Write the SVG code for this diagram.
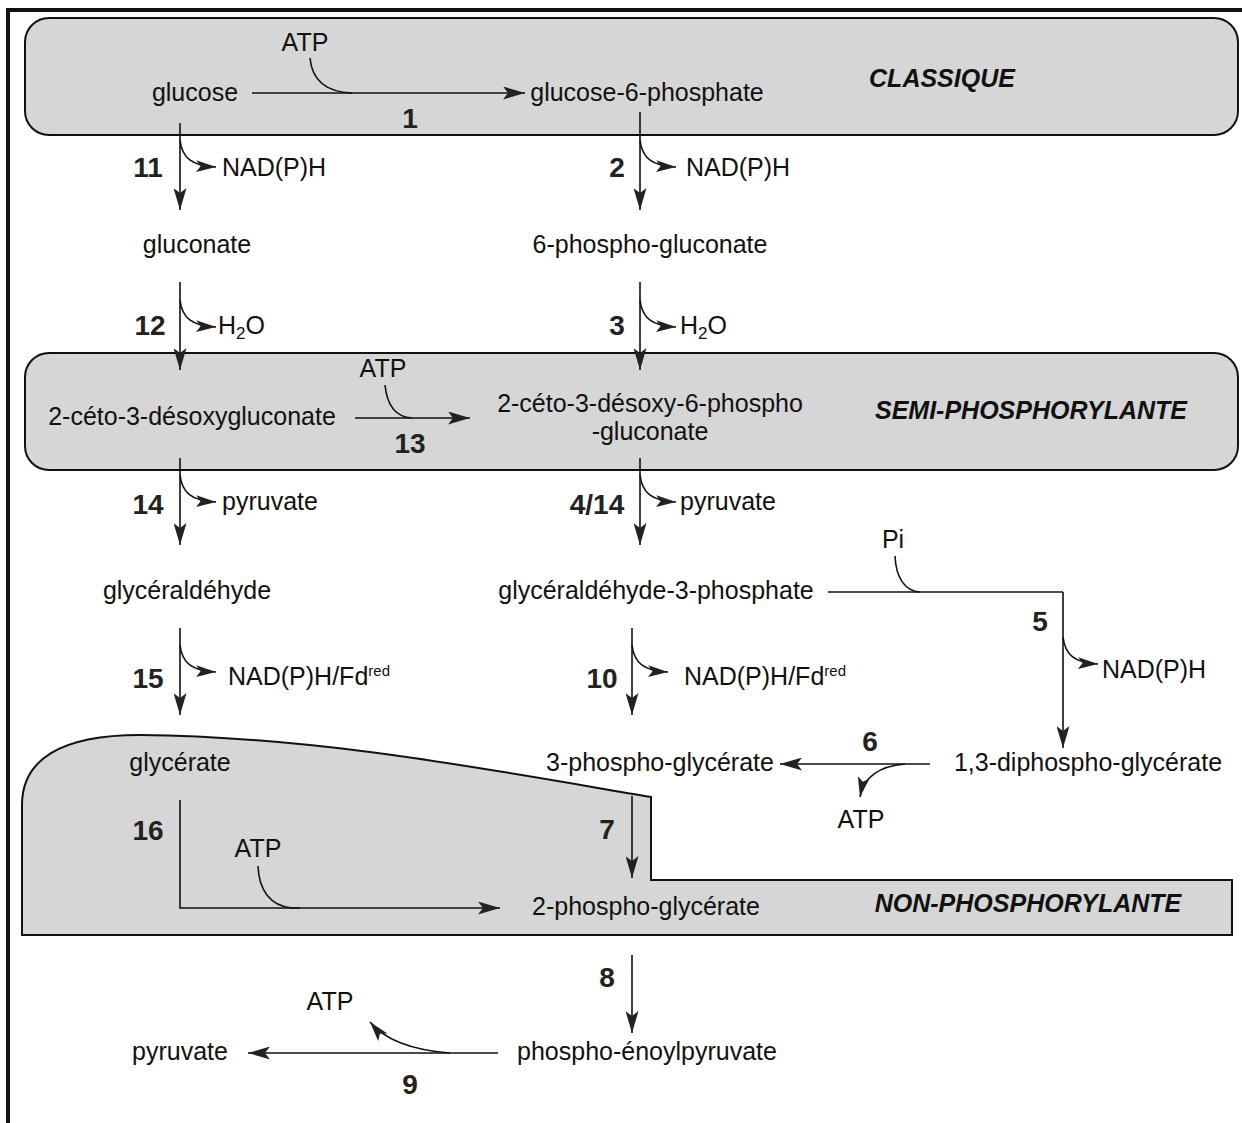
<svg xmlns="http://www.w3.org/2000/svg" width="1242" height="1123" viewBox="0 0 1242 1123">
<style>
.t{font-family:"Liberation Sans",Arial,sans-serif;font-size:25px;fill:#111}
.m{text-anchor:middle}
.n{font-family:"Liberation Sans",Arial,sans-serif;font-size:28px;font-weight:bold;fill:#222;text-anchor:middle}
.p{font-family:"Liberation Sans",Arial,sans-serif;font-size:25px;font-weight:bold;font-style:italic;fill:#111;text-anchor:middle}
.box{fill:#d6d6d6;stroke:#111;stroke-width:2}
.l{fill:none;stroke:#111;stroke-width:1.6}
.a{fill:none;stroke:#111;stroke-width:1.6;marker-end:url(#ah)}
.s{fill:none;stroke:#111;stroke-width:1.6;marker-end:url(#sh)}
</style>
<defs>
<marker id="ah" viewBox="0 0 22 12" refX="22" refY="6" markerWidth="22" markerHeight="13" markerUnits="userSpaceOnUse" orient="auto" preserveAspectRatio="none">
<path d="M0,0 L22,6 L0,12 L5,6 z" fill="#222"/>
</marker>
<marker id="sh" viewBox="0 0 22 12" refX="22" refY="6" markerWidth="20" markerHeight="12" markerUnits="userSpaceOnUse" orient="auto" preserveAspectRatio="none">
<path d="M0,0 L22,6 L0,12 L5,6 z" fill="#222"/>
</marker>
</defs>
<rect width="1242" height="1123" fill="#fff"/>
<g id="frame">
<path d="M8,1123 V10 H1242" fill="none" stroke="#111" stroke-width="4"/>
</g>
<g id="classique">
<rect class="box" x="25" y="18" width="1213" height="117" rx="24"/>
<text class="p" x="942" y="87">CLASSIQUE</text>
</g>
<g id="semi">
<rect class="box" x="25" y="353" width="1213" height="117" rx="24"/>
<text class="p" x="1031" y="419">SEMI-PHOSPHORYLANTE</text>
</g>
<g id="nonphos">
<path class="box" d="M22,935 V805 C22,760 60,735 140,735 C320,737 480,768 651,797 V880 H1232 V935 Z"/>
<text class="p" x="1028" y="912">NON-PHOSPHORYLANTE</text>
</g>
<g id="n-glucose"><text class="t m" x="195" y="101">glucose</text></g>
<g id="n-g6p"><text class="t m" x="647" y="101">glucose-6-phosphate</text></g>
<g id="n-gluconate"><text class="t m" x="197" y="253">gluconate</text></g>
<g id="n-6pg"><text class="t m" x="650" y="253">6-phospho-gluconate</text></g>
<g id="n-kdg"><text class="t m" x="192" y="425">2-céto-3-désoxygluconate</text></g>
<g id="n-kdpg"><text class="t m" x="650" y="412">2-céto-3-désoxy-6-phospho</text><text class="t m" x="650" y="440">-gluconate</text></g>
<g id="n-glyald"><text class="t m" x="187" y="599">glycéraldéhyde</text></g>
<g id="n-g3p"><text class="t m" x="656" y="599">glycéraldéhyde-3-phosphate</text></g>
<g id="n-glycerate"><text class="t m" x="180" y="771">glycérate</text></g>
<g id="n-3pg"><text class="t m" x="660" y="771">3-phospho-glycérate</text></g>
<g id="n-13dpg"><text class="t m" x="1088" y="771">1,3-diphospho-glycérate</text></g>
<g id="n-2pg"><text class="t m" x="646" y="915">2-phospho-glycérate</text></g>
<g id="n-pep"><text class="t m" x="647" y="1060">phospho-énoylpyruvate</text></g>
<g id="n-pyr"><text class="t m" x="180" y="1060">pyruvate</text></g>
<g id="connectors">
<!-- 1 -->
<path class="a" d="M252,93 H525"/>
<path class="l" d="M310,58 C312,80 325,92 352,93"/>
<text class="t m" x="305" y="51">ATP</text>
<text class="n" x="410" y="128">1</text>
<!-- 11 -->
<path class="a" d="M180,123 V210"/>
<path class="s" d="M180,140 C182,158 192,166 216,167"/>
<text class="t" x="222" y="176">NAD(P)H</text>
<text class="n" x="148" y="177">11</text>
<!-- 2 -->
<path class="a" d="M640,112 V210"/>
<path class="s" d="M640,140 C642,158 652,166 676,167"/>
<text class="t" x="686" y="176">NAD(P)H</text>
<text class="n" x="617" y="177">2</text>
<!-- 12 -->
<path class="a" d="M180,282 V370"/>
<path class="s" d="M180,300 C182,318 192,326 216,327"/>
<text class="t" x="218" y="334">H<tspan font-size="17" dy="5">2</tspan><tspan dy="-5">O</tspan></text>
<text class="n" x="150" y="335">12</text>
<!-- 3 -->
<path class="a" d="M640,282 V370"/>
<path class="s" d="M640,300 C642,318 652,326 676,327"/>
<text class="t" x="680" y="334">H<tspan font-size="17" dy="5">2</tspan><tspan dy="-5">O</tspan></text>
<text class="n" x="617" y="335">3</text>
<!-- 13 -->
<path class="a" d="M355,418 H470"/>
<path class="l" d="M385,385 C387,405 395,417 412,418"/>
<text class="t m" x="383" y="377">ATP</text>
<text class="n" x="410" y="453">13</text>
<!-- 14 -->
<path class="a" d="M180,458 V545"/>
<path class="s" d="M180,475 C182,493 192,501 216,502"/>
<text class="t" x="222" y="510">pyruvate</text>
<text class="n" x="148" y="514">14</text>
<!-- 4/14 -->
<path class="a" d="M640,458 V545"/>
<path class="s" d="M640,475 C642,493 652,501 676,502"/>
<text class="t" x="680" y="510">pyruvate</text>
<text class="n" x="597" y="514">4/14</text>
<!-- 5 -->
<path class="l" d="M828,592 H1063"/>
<path class="a" d="M1063,592 V748"/>
<path class="l" d="M895,556 C896,578 905,591 920,592"/>
<text class="t m" x="893" y="548">Pi</text>
<path class="s" d="M1063,637 C1065,655 1075,663 1098,664"/>
<text class="t" x="1102" y="678">NAD(P)H</text>
<text class="n" x="1040" y="631">5</text>
<!-- 15 -->
<path class="a" d="M180,628 V715"/>
<path class="s" d="M180,645 C182,663 192,671 216,672"/>
<text class="t" x="228" y="685">NAD(P)H/Fd<tspan font-size="15" dy="-9">red</tspan></text>
<text class="n" x="148" y="688">15</text>
<!-- 10 -->
<path class="a" d="M632,628 V715"/>
<path class="s" d="M632,645 C634,663 644,671 668,672"/>
<text class="t" x="684" y="685">NAD(P)H/Fd<tspan font-size="15" dy="-9">red</tspan></text>
<text class="n" x="602" y="688">10</text>
<!-- 6 -->
<path class="a" d="M930,764 H780"/>
<path class="s" d="M905,764 C880,766 864,776 860,797"/>
<text class="t m" x="861" y="828">ATP</text>
<text class="n" x="870" y="751">6</text>
<!-- 7 -->
<path class="a" d="M632,796 V878"/>
<text class="n" x="607" y="839">7</text>
<!-- 16 -->
<path class="l" d="M180,800 V908 H300"/>
<path class="a" d="M290,908 H500"/>
<path class="l" d="M258,866 C259,890 270,906 292,908"/>
<text class="t m" x="258" y="857">ATP</text>
<text class="n" x="148" y="840">16</text>
<!-- 8 -->
<path class="a" d="M632,955 V1033"/>
<text class="n" x="607" y="987">8</text>
<!-- 9 -->
<path class="a" d="M498,1053 H248"/>
<path class="s" d="M450,1053 C410,1050 385,1040 370,1022"/>
<text class="t m" x="330" y="1010">ATP</text>
<text class="n" x="410" y="1094">9</text>
</g>
</svg>
